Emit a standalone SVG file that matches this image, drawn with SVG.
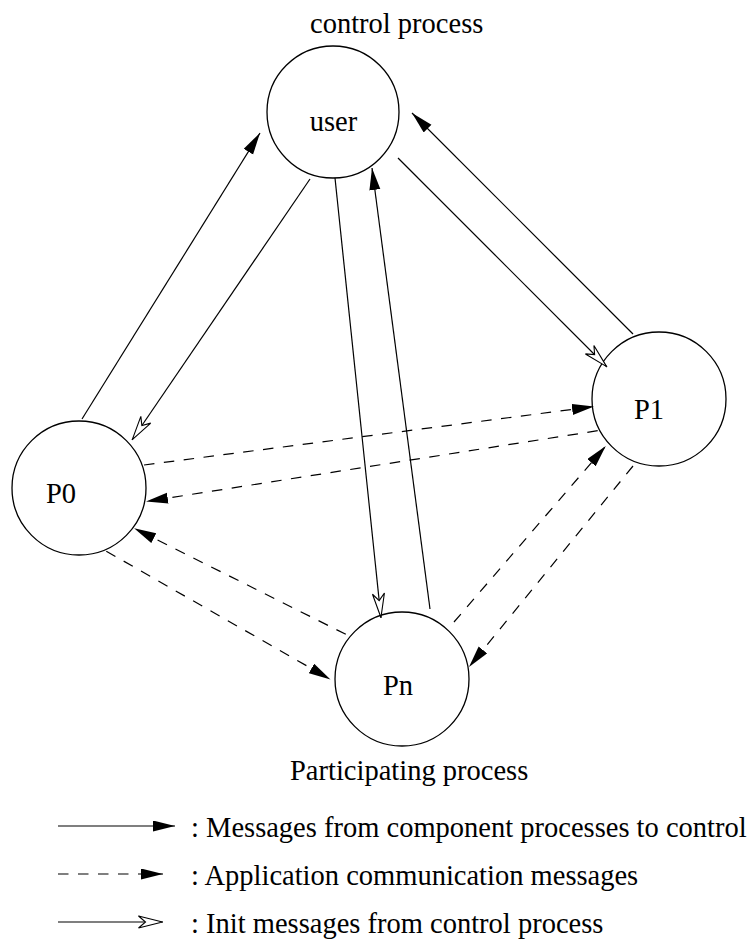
<svg xmlns="http://www.w3.org/2000/svg" width="751" height="939" viewBox="0 0 751 939">
<defs>
<marker id="fill" markerUnits="userSpaceOnUse" markerWidth="24" markerHeight="12" refX="22" refY="5.5" orient="auto">
<path d="M0,0 L22,5.5 L0,11 z" fill="#000"/>
</marker>
<marker id="open" markerUnits="userSpaceOnUse" markerWidth="28" markerHeight="14" refX="25.5" refY="7" orient="auto">
<path d="M1,1 L25,7 L1,13 L8,7 z" fill="#fff" stroke="#000" stroke-width="1.1"/>
</marker>
</defs>
<style>
.n{fill:#fff;stroke:#000;stroke-width:1.3}
.t{font-family:"Liberation Serif","Times New Roman",serif;fill:#000;font-size:28.5px}
.c line{stroke:#000;stroke-width:1.2;fill:none}
.d{stroke-dasharray:10.5 9.5}
.f{marker-end:url(#fill)}
.o{marker-end:url(#open)}
</style>
<rect width="751" height="939" fill="#fff"/>
<g id="user">
<circle class="n" cx="333" cy="112" r="66"/>
<text class="t" x="333.5" y="131" text-anchor="middle">user</text>
</g>
<text class="t" x="310" y="33">control process</text>
<g id="P1">
<circle class="n" cx="659" cy="399" r="67"/>
<text class="t" x="634" y="419">P1</text>
</g>
<g id="P0">
<circle class="n" cx="79" cy="488" r="67"/>
<text class="t" x="46" y="503">P0</text>
</g>
<g id="Pn">
<circle class="n" cx="402" cy="679" r="67"/>
<text class="t" x="383" y="695">Pn</text>
</g>
<text class="t" x="290" y="780">Participating process</text>
<g class="c">
<line class="f" x1="82" y1="419" x2="260" y2="133"/>
<line class="o" x1="310" y1="179" x2="132" y2="440"/>
<line class="o" x1="335" y1="178" x2="381" y2="618"/>
<line class="f" x1="430" y1="609" x2="372" y2="168"/>
<line class="o" x1="398" y1="158" x2="607" y2="367"/>
<line class="f" x1="633" y1="334" x2="412" y2="113"/>
<line class="f d" x1="144" y1="465" x2="594" y2="406.6"/>
<line class="f d" x1="597.7" y1="430.7" x2="146" y2="501.5"/>
<line class="f d" x1="106.3" y1="551.2" x2="330.5" y2="679.4"/>
<line class="f d" x1="345.8" y1="634.3" x2="134.1" y2="528.3"/>
<line class="f d" x1="454" y1="622" x2="605.8" y2="446"/>
<line class="f d" x1="633" y1="466" x2="469" y2="667"/>
<line class="f" x1="58" y1="826" x2="175" y2="826"/>
<line class="f d" x1="58" y1="874" x2="163" y2="874"/>
<line class="o" x1="58" y1="922" x2="163" y2="922"/>
</g>
<g id="legend">
<text class="t" x="191" y="837">: Messages from component processes to control</text>
<text class="t" x="191" y="885">: Application communication messages</text>
<text class="t" x="191" y="933">: Init messages from control process</text>
</g>
</svg>
